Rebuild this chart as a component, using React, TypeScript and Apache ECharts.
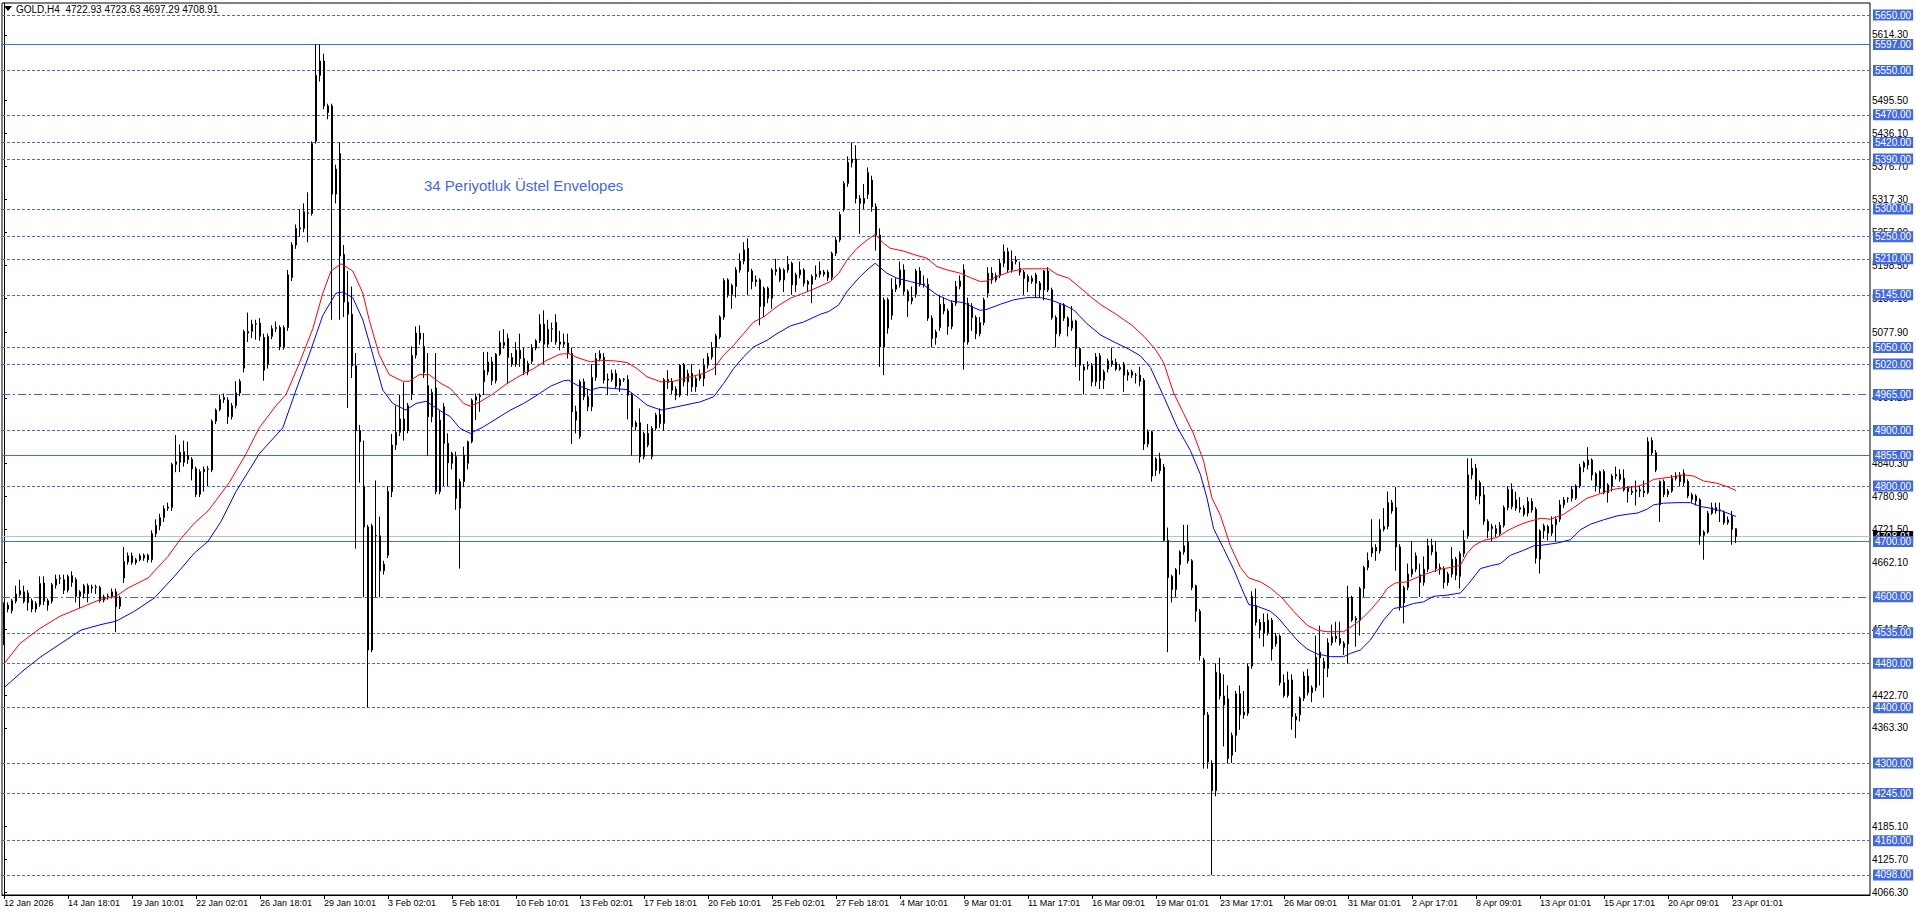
import React, { useEffect, useRef } from "react";
import * as echarts from "echarts";

// ---- DATA ----
const SYMBOL_HEADER = "GOLD,H4  4722.93 4723.63 4697.29 4708.91";
const INDICATOR_NOTE = "34 Periyotluk Üstel Envelopes";

const TIME_LABELS = [
  "12 Jan 2026", "14 Jan 18:01", "19 Jan 10:01", "22 Jan 02:01", "26 Jan 18:01", "29 Jan 10:01",
  "3 Feb 02:01", "5 Feb 18:01", "10 Feb 10:01", "13 Feb 02:01", "17 Feb 18:01", "20 Feb 10:01",
  "25 Feb 02:01", "27 Feb 18:01", "4 Mar 10:01", "9 Mar 01:01", "11 Mar 17:01", "16 Mar 09:01",
  "19 Mar 01:01", "23 Mar 17:01", "26 Mar 09:01", "31 Mar 01:01", "2 Apr 17:01", "8 Apr 09:01",
  "13 Apr 01:01", "15 Apr 17:01", "20 Apr 09:01", "23 Apr 01:01",
];
const BARS_PER_LABEL = 16;
const SLOT_COUNT = 467; // visible bar slots incl. right-hand shift space

const PRICE_TICKS = [
  5614.3, 5495.5, 5436.1, 5376.7, 5317.3, 5257.9, 5198.5, 5139.1, 5077.9, 4959.2,
  4840.3, 4780.9, 4721.5, 4662.1, 4541.5, 4422.7, 4363.3, 4185.1, 4125.7, 4066.3,
];
const Y_MIN = 4061.9;
const Y_MAX = 5671.7;

const SOLID_LEVELS = [5597, 4855, 4700];
const DOTTED_LEVELS = [
  5650, 5550, 5470, 5420, 5390, 5300, 5250, 5210, 5145, 5050, 5020, 4900, 4800,
  4535, 4480, 4400, 4300, 4245, 4160, 4098,
];
const DASHDOT_LEVELS = [4965, 4600];
const CURRENT_PRICE = 4708.91;

// [open, close, low, high]
const CANDLES: number[][] = [
  [4530,4580,4513,4590],[4578,4585,4572,4590],[4575,4593,4570,4596],[4592,4605,4588,4620],[4604,4611,4600,4631],
  [4609,4592,4588,4620],[4607,4590,4575,4612],[4593,4578,4572,4597],[4578,4588,4572,4592],[4586,4624,4582,4637],
  [4625,4592,4585,4637],[4593,4585,4575,4597],[4592,4622,4588,4625],[4621,4632,4615,4640],[4633,4634,4623,4640],
  [4631,4612,4605,4640],[4612,4637,4608,4640],[4638,4626,4618,4646],[4631,4601,4590,4635],[4601,4609,4580,4612],
  [4606,4620,4597,4623],[4620,4606,4590,4624],[4616,4618,4607,4622],[4617,4618,4605,4622],[4617,4593,4590,4620],
  [4594,4600,4590,4604],[4600,4601,4595,4606],[4600,4609,4597,4615],[4609,4582,4536,4615],[4583,4597,4578,4602],
  [4634,4664,4625,4690],[4663,4674,4658,4680],[4674,4662,4658,4680],[4662,4667,4658,4670],[4667,4674,4664,4678],
  [4670,4675,4665,4678],[4675,4667,4662,4678],[4667,4714,4662,4720],[4714,4729,4708,4740],[4728,4743,4720,4750],
  [4743,4759,4735,4765],[4760,4762,4755,4770],[4761,4839,4755,4842],[4839,4844,4825,4892],[4843,4861,4825,4875],
  [4862,4843,4835,4882],[4855,4848,4840,4880],[4848,4831,4810,4852],[4831,4785,4780,4835],[4785,4826,4780,4830],
  [4826,4830,4790,4835],[4830,4831,4800,4836],[4829,4917,4825,4920],[4917,4937,4912,4940],[4938,4956,4935,4965],
  [4956,4960,4950,4967],[4955,4925,4912,4960],[4925,4945,4920,4950],[4945,4968,4940,4989],[4968,4989,4962,4993],
  [5013,5079,5005,5082],[5076,5079,5060,5113],[5079,5092,5067,5100],[5092,5093,5064,5100],[5070,5094,5062,5103],
  [5068,5009,4990,5075],[5020,5070,5012,5075],[5070,5084,5065,5090],[5084,5086,5078,5097],[5086,5051,5045,5090],
  [5051,5086,5046,5090],[5086,5181,5080,5190],[5176,5235,5170,5240],[5235,5265,5228,5272],[5264,5266,5250,5300],
  [5265,5295,5258,5310],[5292,5293,5240,5330],[5292,5418,5288,5422],[5422,5541,5418,5597],[5541,5567,5530,5597],
  [5567,5486,5480,5580],[5486,5474,5462,5490],[5486,5327,5100,5490],[5327,5372,5310,5380],[5400,5215,5100,5420],
  [5218,5132,5105,5235],[5132,5110,4941,5188],[5110,5017,4995,5160],[5017,4900,4687,5040],[4900,4880,4806,4910],
  [4800,4726,4599,4882],[4726,4504,4400,4730],[4504,4728,4500,4732],[4710,4711,4599,4810],[4710,4647,4599,4745],
  [4647,4659,4640,4665],[4675,4790,4670,4800],[4790,4874,4780,4894],[4874,4897,4865,4945],[4897,4921,4890,4965],
  [4921,4900,4882,4987],[4900,4945,4895,4950],[4965,5036,4955,5052],[5036,5076,5030,5088],[5065,5076,5055,5090],
  [5052,5005,4995,5076],[4981,4925,4854,5040],[4925,4969,4915,4975],[4977,4790,4785,5040],[4790,4919,4785,4937],
  [4943,4877,4800,4950],[4877,4842,4800,4895],[4859,4841,4830,4862],[4853,4778,4757,4862],[4760,4808,4651,4813],
  [4808,4856,4798,4871],[4841,4880,4830,4882],[4880,4955,4877,4958],[4955,4961,4919,4967],[4961,4964,4934,4967],
  [4988,5009,4964,5042],[5006,5024,5000,5042],[5024,4990,4982,5033],[4990,5038,4985,5040],[5038,5059,5035,5080],
  [5059,5054,5048,5083],[5066,5032,4985,5075],[5032,5020,5015,5040],[5020,5045,5015,5060],[5045,5030,5015,5075],
  [5030,5006,5000,5050],[5006,5021,5000,5026],[5025,5049,5020,5056],[5049,5062,5045,5065],[5062,5092,5058,5110],
  [5092,5056,5020,5117],[5056,5083,5050,5100],[5083,5084,5060,5095],[5095,5060,5055,5110],[5060,5056,5045,5080],
  [5056,5060,5050,5075],[5058,5039,5030,5075],[5039,4934,4876,5050],[4934,4919,4895,4945],[4889,4988,4885,4992],
  [4988,4961,4955,4994],[4961,4943,4935,4975],[4943,4996,4935,5020],[4996,5030,4990,5040],[5030,5039,5025,5045],
  [5032,4991,4985,5040],[4991,4993,4964,5003],[4992,5003,4988,5010],[5003,4980,4976,5010],[4981,4992,4970,4995],
  [4992,4993,4988,4995],[4992,4964,4920,5000],[4964,4907,4855,4968],[4907,4914,4900,4918],[4914,4853,4842,4940],
  [4853,4895,4848,4898],[4895,4874,4870,4912],[4853,4904,4848,4908],[4904,4928,4900,4932],[4929,4913,4905,4940],
  [4913,4992,4900,4995],[4992,4987,4975,5009],[4988,4973,4965,4995],[4975,4964,4955,4980],[4964,5018,4960,5020],
  [5018,4988,4980,5022],[4988,5003,4963,5010],[5003,4979,4970,5020],[4979,4994,4970,4998],[4994,5001,4990,5010],
  [4994,5018,4980,5030],[5018,5033,5012,5040],[5033,5050,5028,5060],[5050,5071,5000,5075],[5069,5105,5065,5108],
  [5105,5171,5100,5175],[5172,5145,5140,5175],[5146,5162,5120,5165],[5160,5190,5140,5195],[5190,5206,5185,5220],
  [5206,5226,5200,5240],[5229,5187,5145,5247],[5188,5169,5155,5192],[5172,5169,5160,5180],[5172,5124,5090,5175],
  [5124,5157,5105,5160],[5157,5139,5130,5160],[5139,5190,5120,5193],[5187,5191,5180,5210],[5191,5172,5168,5195],
  [5172,5190,5150,5193],[5190,5200,5185,5215],[5202,5163,5145,5205],[5163,5181,5150,5185],[5181,5190,5175,5205],
  [5190,5166,5160,5193],[5169,5164,5150,5172],[5164,5178,5130,5182],[5178,5182,5172,5198],[5188,5182,5176,5205],
  [5182,5186,5178,5190],[5186,5176,5170,5190],[5176,5220,5172,5223],[5220,5244,5215,5250],[5244,5290,5240,5295],
  [5300,5346,5295,5350],[5346,5384,5340,5395],[5384,5390,5375,5420],[5390,5319,5310,5415],[5319,5310,5255,5325],
  [5310,5319,5300,5345],[5326,5366,5318,5375],[5352,5304,5295,5360],[5304,5253,5225,5310],[5253,5051,5015,5265],
  [5051,5136,5000,5140],[5136,5085,5075,5140],[5108,5155,5100,5175],[5155,5163,5150,5175],[5163,5190,5158,5205],
  [5190,5151,5145,5200],[5151,5134,5105,5155],[5134,5140,5128,5160],[5146,5188,5140,5192],[5188,5164,5160,5195],
  [5164,5165,5158,5180],[5164,5103,5098,5175],[5103,5066,5050,5108],[5068,5078,5055,5082],[5086,5128,5080,5145],
  [5128,5116,5110,5140],[5116,5088,5073,5120],[5088,5130,5083,5135],[5130,5160,5125,5170],[5160,5170,5155,5180],
  [5190,5060,5010,5200],[5060,5130,5055,5140],[5124,5104,5080,5130],[5104,5075,5065,5108],[5075,5095,5070,5105],
  [5095,5136,5090,5140],[5148,5184,5140,5195],[5184,5172,5165,5195],[5172,5180,5168,5185],[5180,5202,5175,5210],
  [5202,5223,5195,5236],[5223,5190,5185,5230],[5190,5205,5185,5225],[5205,5208,5200,5215],[5193,5186,5180,5205],
  [5186,5175,5145,5190],[5178,5169,5150,5182],[5169,5175,5165,5180],[5181,5166,5140,5185],[5166,5154,5140,5170],
  [5154,5188,5135,5190],[5188,5154,5150,5195],[5154,5104,5100,5158],[5104,5075,5050,5108],[5075,5127,5070,5130],
  [5127,5103,5098,5130],[5103,5088,5070,5106],[5098,5085,5080,5125],[5098,5048,5015,5100],[5048,5018,4990,5050],
  [5009,5015,4965,5020],[5017,5018,5010,5025],[5017,4988,4980,5022],[4988,5033,4980,5040],[5035,4991,4975,5040],
  [4991,5006,4975,5010],[5011,5026,5005,5030],[5020,5026,5015,5050],[5023,5011,5008,5030],[5011,5014,5008,5020],
  [5020,5000,4970,5024],[5000,5005,4990,5010],[5006,5000,4995,5010],[5000,5000,4985,5004],[5000,4989,4980,5015],
  [4991,4876,4865,4995],[4876,4898,4870,4902],[4898,4818,4808,4900],[4828,4849,4818,4852],[4849,4828,4822,4860],
  [4834,4702,4700,4840],[4702,4635,4500,4725],[4637,4613,4590,4640],[4613,4649,4600,4652],[4658,4681,4640,4684],
  [4681,4692,4676,4730],[4699,4665,4660,4730],[4665,4617,4612,4668],[4620,4574,4555,4622],[4574,4494,4485,4578],
  [4486,4387,4290,4490],[4387,4302,4290,4392],[4300,4250,4098,4305],[4250,4464,4240,4480],[4462,4421,4415,4490],
  [4421,4405,4330,4460],[4416,4308,4300,4440],[4314,4350,4300,4355],[4350,4425,4320,4430],[4425,4387,4360,4440],
  [4387,4392,4380,4430],[4390,4474,4385,4480],[4475,4601,4470,4610],[4584,4554,4548,4615],[4554,4540,4525,4560],
  [4554,4535,4510,4570],[4535,4558,4530,4570],[4558,4506,4485,4562],[4515,4529,4510,4535],[4529,4445,4440,4532],
  [4445,4422,4418,4460],[4422,4450,4418,4465],[4450,4384,4360,4460],[4384,4378,4345,4390],[4387,4417,4375,4420],
  [4417,4457,4412,4465],[4457,4427,4422,4470],[4427,4436,4410,4440],[4436,4491,4430,4530],[4500,4490,4440,4548],
  [4483,4471,4418,4490],[4471,4517,4455,4525],[4517,4528,4512,4550],[4529,4525,4518,4555],[4525,4516,4512,4555],
  [4516,4509,4495,4520],[4515,4599,4480,4620],[4599,4558,4555,4602],[4561,4558,4510,4565],[4558,4615,4530,4618],
  [4615,4653,4600,4656],[4653,4666,4648,4680],[4679,4689,4672,4740],[4689,4683,4665,4695],[4683,4722,4678,4740],
  [4722,4727,4718,4760],[4727,4770,4722,4790],[4770,4755,4750,4775],[4761,4690,4647,4798],[4690,4582,4575,4695],
  [4589,4617,4552,4620],[4617,4641,4612,4660],[4641,4650,4636,4700],[4650,4674,4645,4680],[4640,4626,4600,4660],
  [4626,4650,4620,4673],[4650,4692,4645,4705],[4693,4681,4675,4705],[4681,4651,4645,4700],[4653,4650,4640,4660],
  [4650,4626,4615,4655],[4626,4641,4620,4645],[4641,4668,4635,4690],[4668,4639,4630,4672],[4637,4678,4615,4682],
  [4678,4702,4672,4720],[4710,4820,4705,4850],[4820,4832,4812,4850],[4832,4782,4775,4840],[4806,4782,4767,4810],
  [4784,4736,4730,4800],[4736,4719,4706,4740],[4723,4727,4700,4732],[4723,4714,4708,4730],[4714,4729,4710,4735],
  [4729,4761,4725,4765],[4761,4794,4756,4800],[4794,4763,4758,4805],[4775,4760,4755,4790],[4761,4758,4752,4780],
  [4760,4749,4745,4765],[4751,4772,4745,4780],[4772,4757,4752,4778],[4758,4670,4660,4762],[4668,4719,4642,4722],
  [4719,4728,4705,4732],[4727,4715,4702,4730],[4715,4730,4710,4745],[4730,4740,4700,4745],[4740,4766,4735,4775],
  [4766,4775,4760,4780],[4777,4778,4770,4780],[4778,4794,4772,4800],[4778,4800,4775,4803],[4800,4834,4796,4840],
  [4834,4842,4825,4845],[4838,4847,4830,4870],[4847,4820,4810,4850],[4822,4800,4790,4825],[4796,4826,4787,4828],
  [4826,4788,4785,4830],[4788,4802,4770,4805],[4800,4818,4790,4822],[4818,4821,4812,4835],[4821,4812,4808,4830],
  [4814,4793,4790,4830],[4796,4790,4770,4800],[4788,4791,4784,4800],[4790,4793,4765,4810],[4793,4791,4780,4800],
  [4791,4788,4780,4810],[4788,4880,4785,4888],[4882,4860,4855,4888],[4860,4829,4825,4865],[4808,4766,4735,4810],
  [4808,4785,4780,4812],[4785,4791,4780,4795],[4791,4814,4788,4820],[4814,4818,4810,4825],[4808,4820,4800,4825],
  [4823,4806,4800,4830],[4808,4782,4778,4812],[4784,4776,4770,4788],[4782,4773,4765,4785],[4775,4710,4694,4778],
  [4711,4717,4667,4720],[4717,4751,4714,4755],[4751,4761,4748,4770],[4761,4755,4750,4770],[4756,4757,4735,4770],
  [4752,4734,4730,4756],[4734,4739,4730,4745],[4746,4722,4694,4755],[4722.93,4708.91,4697.29,4723.63],
];

// Envelope lines: [bar index, price]
const ENVELOPE_UPPER: number[][] = [
  [0,4479],[4,4516],[9,4543],[14,4565],[19,4580],[24,4595],[28,4601],[31,4616],[36,4634],[41,4673],[44,4703],
  [47.6,4733],[51,4755],[53,4774],[56.3,4806],[60.5,4858],[63.8,4905],[68,4945],[70.5,4965],[73.8,5021],
  [77.2,5084],[79.7,5148],[81.75,5188],[84.25,5201],[87.2,5188],[89.7,5148],[91.3,5100],[93.8,5037],[96.3,5001],
  [99.7,4989],[101.3,4989],[103.8,5001],[106.3,5001],[109.25,4985],[111.6,4976],[114.9,4949],[116.6,4944],
  [119,4952],[122.4,4967],[125.75,4985],[129,4999],[132.4,5012],[135.75,5027],[139,5038],[141.2,5039],
  [143.25,5032],[146.6,5024],[149,5027],[152.4,5026],[155.75,5023],[158.25,5012],[160.75,4997],[164.25,4988],
  [167.4,4989],[171.6,4997],[174.9,5003],[177.4,5012],[179.9,5036],[182.4,5054],[184.9,5075],[187.4,5096],
  [189.9,5105],[193.25,5124],[196.6,5139],[199.9,5148],[203.25,5158],[206.6,5169],[208.7,5184],[210.75,5208],
  [213.25,5229],[215.75,5244],[217.8,5254],[219.9,5238],[221.6,5229],[224.9,5224],[228.25,5216],[230.75,5211],
  [233.25,5196],[235.75,5190],[239.1,5184],[241.6,5176],[244.1,5169],[245.75,5170],[248.25,5178],[251.6,5187],
  [254.9,5192],[258.25,5192],[261.2,5192],[263.25,5182],[266.2,5175],[268.7,5160],[271.6,5142],[274.25,5127],
  [278,5110],[282,5090],[285,5070],[287.8,5047],[289.9,5023],[292.4,4968],[294.9,4931],[297.4,4894],[299.9,4845],
  [302,4778],[304.1,4747],[306.6,4692],[309.1,4653],[311.2,4634],[314.1,4627],[316.6,4616],[319.5,4598],
  [322.4,4574],[325.75,4549],[328.25,4540],[330.75,4537],[334.9,4537],[336.6,4545],[339.1,4558],[341.6,4576],
  [344.1,4597],[345.75,4615],[347.8,4625],[350.75,4627],[353.25,4635],[355.75,4642],[359.1,4650],[361.6,4653],
  [364.1,4657],[365.75,4678],[367.4,4692],[369.9,4702],[373.25,4707],[375.75,4719],[378.25,4728],[380.75,4735],
  [384.25,4742],[386.6,4740],[389.9,4749],[392.4,4761],[395.75,4778],[398.25,4784],[401.6,4793],[404.9,4797],
  [408.25,4799],[410.75,4805],[412.4,4812],[416.6,4816],[419.9,4820],[422.4,4818],[424.9,4809],[428.25,4805],
  [430.75,4799],[433,4792],
];

const ENVELOPE_LOWER: number[][] = [
  [0,4436],[5,4468],[9.25,4492],[14.25,4516],[19.25,4540],[24.25,4550],[28,4556],[32.6,4574],[37.6,4598],
  [42.6,4637],[47.6,4679],[51,4700],[54.25,4736],[58,4790],[63.8,4858],[69.7,4905],[73,4973],[76.3,5037],
  [79.7,5108],[83,5148],[84.7,5150],[87.2,5140],[89.7,5100],[92.2,5037],[94.7,4973],[97.2,4949],[100.5,4937],
  [103,4949],[105.5,4953],[109.25,4935],[111.6,4925],[114,4904],[116.6,4895],[119.9,4907],[123.25,4922],
  [126.6,4937],[129.9,4949],[133.25,4964],[136.6,4980],[139.9,4990],[141.2,4991],[143.25,4982],[146.6,4973],
  [149,4978],[152.4,4976],[155.75,4974],[158.25,4961],[160.75,4946],[164.25,4937],[168.25,4943],[174.1,4952],
  [177.4,4961],[179.9,4985],[182.4,5012],[184.9,5033],[187.4,5051],[190.75,5063],[193.25,5075],[196.6,5089],
  [199.9,5096],[204.1,5110],[206.2,5115],[208.7,5127],[210.75,5151],[213.25,5172],[215.75,5190],[217.8,5202],
  [220.75,5184],[223.25,5175],[226.6,5169],[229.9,5163],[233.25,5145],[236.6,5134],[239.9,5131],[242.4,5122],
  [244.1,5117],[245.75,5119],[249.1,5128],[252.4,5136],[255.75,5140],[259.1,5140],[261.6,5136],[264.9,5127],
  [267.4,5118],[270.75,5093],[274.25,5072],[277.5,5060],[281.2,5047],[284.1,5035],[286.6,5014],[289.9,4962],
  [293.25,4907],[296.6,4864],[299.1,4821],[300.75,4778],[302.4,4723],[304.9,4687],[307.4,4650],[309.9,4607],
  [311.2,4586],[313.25,4583],[316.6,4574],[318.7,4561],[320.75,4543],[323.25,4522],[325.75,4506],[328.25,4497],
  [331.6,4492],[334.9,4492],[336.6,4498],[339.1,4504],[341.6,4522],[344.9,4558],[347.4,4579],[349.9,4582],
  [352.4,4588],[354.9,4591],[357.4,4601],[360.75,4603],[364.1,4607],[366.2,4624],[369.1,4651],[371.6,4656],
  [374.1,4660],[376.6,4675],[379.9,4684],[382.4,4692],[384.25,4693],[388.25,4697],[391.6,4703],[394.1,4721],
  [396.6,4731],[399.9,4739],[403.25,4746],[405.75,4749],[408.25,4751],[410.75,4758],[412.4,4766],[414.9,4769],
  [418.25,4770],[421.6,4770],[424.1,4763],[426.6,4760],[429.9,4754],[433,4745],
];

// ---- STYLE ----
const LEVEL_BLUE = "#4169E1";
const FONT = '"Liberation Sans", Arial, sans-serif';

function buildOption() {
  const slots = Array.from({ length: SLOT_COUNT }, (_, i) => String(i));
  const showLabel = (index: number) =>
    index % BARS_PER_LABEL === 0 && index / BARS_PER_LABEL < TIME_LABELS.length;

  const lvl = (v: number, type: any, color = LEVEL_BLUE, labelBg = LEVEL_BLUE) => ({
    yAxis: v,
    lineStyle: { color, type, width: 1 },
    label: { backgroundColor: labelBg },
  });

  const markData = [
    lvl(CURRENT_PRICE, "solid", "#C0C0C0", "#000000"),
    ...DOTTED_LEVELS.map((v) => lvl(v, [3, 2])),
    ...DASHDOT_LEVELS.map((v) => lvl(v, [8, 3, 2, 3])),
    ...SOLID_LEVELS.map((v) => lvl(v, "solid")),
  ];

  return {
    animation: false,
    backgroundColor: "#ffffff",
    textStyle: { fontFamily: FONT },
    grid: {
      left: 2,
      right: 46,
      top: 3,
      bottom: 22,
      show: true,
      borderColor: "#000",
      borderWidth: 1,
      backgroundColor: "#fff",
    },
    xAxis: [
      {
        type: "category",
        data: slots,
        boundaryGap: true,
        axisLine: { show: true, lineStyle: { color: "#000", width: 1 } },
        axisTick: {
          show: true,
          alignWithLabel: true,
          interval: (i: number) => showLabel(i),
          length: 4,
          lineStyle: { color: "#000" },
        },
        axisLabel: {
          interval: (i: number) => showLabel(i),
          formatter: (_v: string, i: number) =>
            showLabel(i) ? TIME_LABELS[i / BARS_PER_LABEL] : "",
          align: "left",
          color: "#000",
          fontSize: 9,
          fontFamily: FONT,
          margin: 3,
        },
        splitLine: { show: false },
      },
      { type: "value", min: -0.5, max: SLOT_COUNT - 0.5, show: false },
    ],
    yAxis: {
      type: "value",
      position: "right",
      min: Y_MIN,
      max: Y_MAX,
      axisLine: { show: true, lineStyle: { color: "#000" } },
      axisTick: { show: true, length: 3, customValues: PRICE_TICKS, lineStyle: { color: "#000" } },
      axisLabel: {
        customValues: PRICE_TICKS,
        formatter: (v: number) => v.toFixed(2),
        color: "#000",
        fontSize: 10,
        fontFamily: FONT,
        margin: 2,
      },
      splitLine: { show: false },
    },
    graphic: [
      { type: "polygon", shape: { points: [[4, 6], [12, 6], [8, 11]] }, style: { fill: "#000" } },
      {
        type: "text",
        left: 16,
        top: 4,
        style: { text: SYMBOL_HEADER, fill: "#000", font: `10px ${FONT}` },
      },
      {
        type: "text",
        left: 424,
        top: 178,
        style: { text: INDICATOR_NOTE, fill: LEVEL_BLUE, font: `15px ${FONT}` },
      },
    ],
    series: [
      {
        type: "candlestick",
        xAxisIndex: 0,
        yAxisIndex: 0,
        data: CANDLES,
        barWidth: 2,
        itemStyle: {
          color: "#ffffff",
          color0: "#000000",
          borderColor: "#000000",
          borderColor0: "#000000",
          borderWidth: 1,
        },
        silent: true,
        z: 4,
        markLine: {
          silent: true,
          symbol: ["none", "none"],
          z: 2,
          label: {
            show: true,
            position: "end",
            distance: 3,
            formatter: (p: any) => Number(p.value).toFixed(2),
            color: "#fff",
            fontSize: 10,
            fontFamily: FONT,
            lineHeight: 10,
            padding: [1, 2, 0, 2],
          },
          data: markData,
        },
      },
      {
        type: "line",
        xAxisIndex: 1,
        yAxisIndex: 0,
        data: ENVELOPE_UPPER,
        showSymbol: false,
        symbol: "none",
        lineStyle: { color: "#ff0000", width: 1 },
        silent: true,
        z: 5,
      },
      {
        type: "line",
        xAxisIndex: 1,
        yAxisIndex: 0,
        data: ENVELOPE_LOWER,
        showSymbol: false,
        symbol: "none",
        lineStyle: { color: "#0000ff", width: 1 },
        silent: true,
        z: 5,
      },
    ],
  };
}

export default function App() {
  const ref = useRef<HTMLDivElement>(null);
  useEffect(() => {
    document.body.style.margin = "0";
    const chart = echarts.init(ref.current!, null, { renderer: "svg" });
    chart.setOption(buildOption() as any);
    return () => chart.dispose();
  }, []);
  return (
    <div
      ref={ref}
      style={{ position: "absolute", left: 0, top: 0, width: 1916, height: 917, background: "#fff" }}
    />
  );
}
